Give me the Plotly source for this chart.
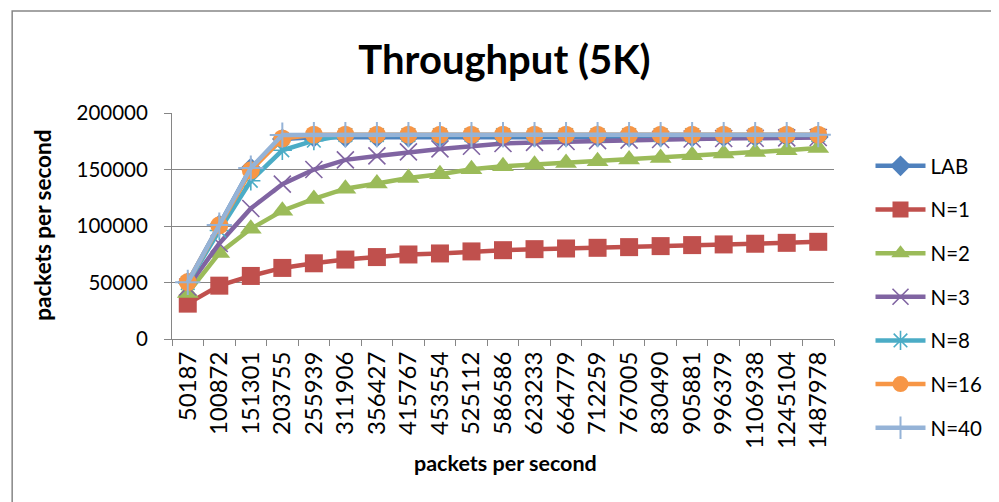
import plotly.graph_objects as go

categories = ["50187", "100872", "151301", "203755", "255939", "311906", "356427",
              "415767", "453554", "525112", "586586", "623233", "664779", "712259",
              "767005", "830490", "905881", "996379", "1106938", "1245104", "1487978"]

lab = [50187, 100872, 151301, 177000, 178500, 178500, 178600, 178600, 178700, 178700,
       178700, 178800, 178800, 178800, 178800, 178800, 178800, 178800, 178800, 178800, 178800]
n1 = [31300, 47200, 55800, 62900, 67000, 70300, 72500, 74800, 75700, 77500, 78600,
      79500, 80100, 80700, 81300, 82200, 83100, 83700, 84300, 85100, 86000]
n2 = [40700, 76000, 97500, 113500, 124000, 133000, 137600, 142500, 145800, 150300, 152800,
      154300, 155800, 157300, 158800, 160200, 162600, 164100, 165500, 167000, 169000]
n3 = [46000, 84500, 115500, 137000, 150000, 158500, 162000, 165600, 168200, 170600, 173000,
      174000, 174800, 175500, 176000, 176500, 177000, 177400, 177700, 178000, 178300]
n8 = [49500, 96000, 140000, 167000, 175500, 180500, 180500, 180500, 180500, 180500, 180500,
      180500, 180500, 180500, 180500, 180500, 180500, 180500, 180500, 180500, 180500]
n16 = [50400, 100600, 149300, 177500, 180800, 180800, 180800, 180800, 180800, 180800, 180800,
       180800, 180800, 180800, 180800, 180800, 180800, 180800, 180800, 180800, 180800]
n40 = [50187, 100872, 151301, 180500, 180800, 180800, 180800, 180800, 180800, 180800, 180800,
       180800, 180800, 180800, 180800, 180800, 180800, 180800, 180800, 180800, 180800]

series = [
    ("LAB", lab, "#4F81BD", "diamond", 16, 0),
    ("N=1", n1, "#C0504D", "square", 18, 0),
    ("N=2", n2, "#9BBB59", "triangle-up", 19, 0),
    ("N=3", n3, "#8064A2", "x-thin-open", 17, 1.6),
    ("N=8", n8, "#4BACC6", "asterisk-open", 16, 1.6),
    ("N=16", n16, "#F79646", "circle", 18, 0),
    ("N=40", n40, "#95B3D7", "cross-thin-open", 18, 2),
]

FONT = "Lato"
fig = go.Figure()
for name, vals, color, sym, size, lw in series:
    fig.add_trace(go.Scatter(
        x=categories, y=vals, name=name, mode="lines+markers", legendgroup=name,
        line=dict(color=color, width=4.5),
        marker=dict(symbol=sym, size=size, color=color,
                    line=dict(width=lw, color=color)),
    ))

# page body offsets the figure by 8px; work in screen pixels and shift
OFF = 8
W, H = 999 - OFF, 502 - OFF
L, R, T, B = 172 - OFF, 843 - OFF, 113 - OFF, 339 - OFF


def px(x):
    return (x - OFF - L) / (R - L)


def py(y):
    return (B - (y - OFF)) / (B - T)


fig.update_layout(
    width=W, height=H,
    margin=dict(l=L, r=W - R, t=T, b=H - B),
    paper_bgcolor="white", plot_bgcolor="white",
    font=dict(family=FONT, color="black", size=20),
    title=dict(text="<b>Throughput (5K)</b>", font=dict(family=FONT, size=40, color="black"),
               x=px(509), xref="paper", xanchor="center",
               y=1 - (60 - OFF) / H, yref="container", yanchor="middle"),
    xaxis=dict(type="category", range=[-0.5, 20.5], showgrid=False,
               showline=True, linecolor="#868686", linewidth=1,
               ticks="outside", ticklen=6, tickcolor="#868686", tickson="boundaries",
               tickangle=-90, tickfont=dict(family=FONT, size=24, color="black"),
               ticklabelstandoff=2),
    yaxis=dict(range=[0, 200000], dtick=50000, tickformat="d", showgrid=True,
               gridcolor="#868686", gridwidth=1, showline=True, linecolor="#868686",
               linewidth=1, ticks="outside", ticklen=7, tickcolor="#868686", zeroline=False,
               tickfont=dict(family=FONT, size=20.5, color="black"),
               ticklabelstandoff=12),
    showlegend=True,
    legend=dict(x=px(880), xanchor="left", y=py(146), yanchor="top",
                traceorder="grouped", tracegroupgap=14, itemwidth=50, maxheight=420,
                font=dict(family=FONT, size=20.5, color="black"),
                bgcolor="rgba(0,0,0,0)"),
    annotations=[
        dict(text="<b>packets per second</b>", x=px(40), y=py(225), xref="paper", yref="paper",
             showarrow=False, textangle=-90, font=dict(family=FONT, size=22.5, color="black"),
             xanchor="center", yanchor="middle"),
        dict(text="<b>packets per second</b>", x=px(510), y=py(463), xref="paper", yref="paper",
             showarrow=False, font=dict(family=FONT, size=21.5, color="black"),
             xanchor="center", yanchor="middle"),
    ],
    shapes=[
        dict(type="rect", xref="paper", yref="paper", x0=px(10), y0=py(560), x1=px(1060), y1=py(11),
             line=dict(color="#868686", width=1.5), fillcolor="rgba(0,0,0,0)", layer="below"),
    ],
)

fig.write_html("out.html")
